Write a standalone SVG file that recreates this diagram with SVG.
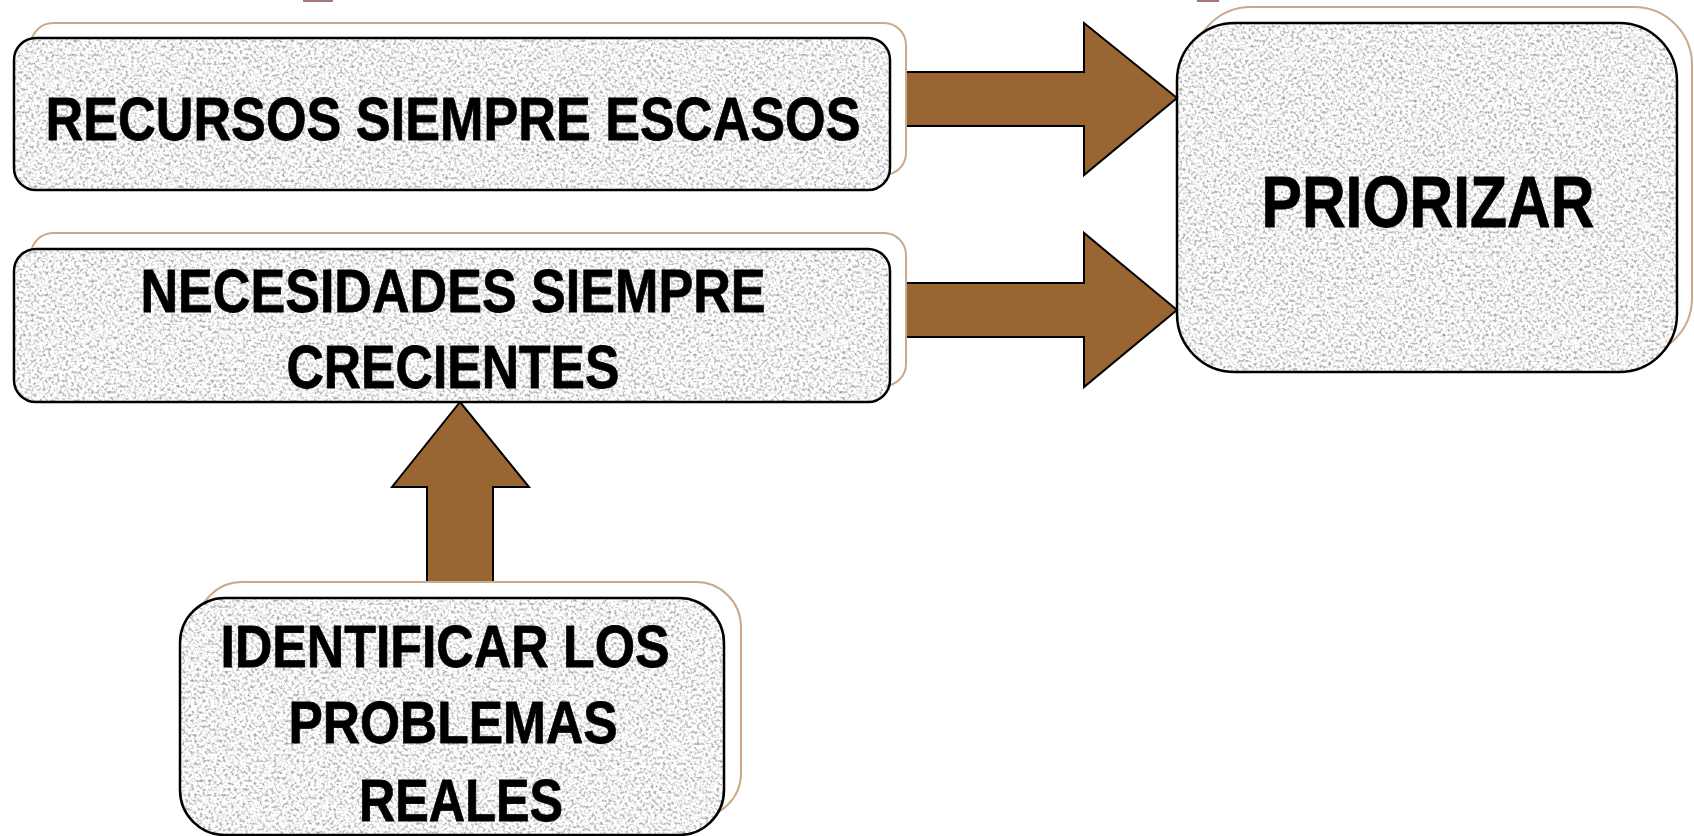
<svg xmlns="http://www.w3.org/2000/svg" width="1694" height="836" viewBox="0 0 1694 836">
  <style>
    .back { fill: #ffffff; stroke: #c9ab8c; stroke-width: 2; }
    .face { fill: #e6e6e6; filter: url(#granite); }
    .edge { fill: none; stroke: #000000; stroke-width: 2.5; }
    .lbl { font-family: "Liberation Sans Narrow", "Liberation Sans", Arial, sans-serif; font-weight: bold; fill: #000000; text-anchor: middle; stroke: #000000; stroke-width: 0.8; }
    .arrow { fill: #996633; stroke: #000000; stroke-width: 2; stroke-linejoin: miter; }
  </style>
  <defs>
    <filter id="granite" x="0" y="0" width="100%" height="100%" color-interpolation-filters="sRGB">
      <feTurbulence type="fractalNoise" baseFrequency="0.35" numOctaves="2" seed="7" result="noise"/>
      <feColorMatrix in="noise" type="matrix" values="1.0 0 0 0 0.45  1.0 0 0 0 0.45  1.0 0 0 0 0.45  0 0 0 0 1" result="gray"/>
      <feComposite in="gray" in2="SourceGraphic" operator="in"/>
    </filter>
  </defs>

  <rect x="0" y="0" width="1694" height="836" fill="#ffffff"/>
  <rect x="303" y="0" width="30" height="2" fill="#a87878"/>
  <rect x="1197" y="0" width="22" height="2" fill="#a87878"/>

  <g id="connectors">
    <polygon class="arrow" points="905,72 1084,72 1084,23 1177,98 1084,175 1084,126 905,126"/>
    <polygon class="arrow" points="905,283 1084,283 1084,233 1177,310 1084,387 1084,337 905,337"/>
    <polygon class="arrow" points="460,402 529,487 493,487 493,583 427,583 427,487 392,487"/>
  </g>

  <g id="node-recursos">
    <rect class="back" x="31" y="23" width="875" height="152" rx="22"/>
    <rect class="face" x="14" y="38" width="876" height="152" rx="22"/>
    <rect class="edge" x="14" y="38" width="876" height="152" rx="22"/>
    <text class="lbl" x="453" y="140" font-size="61" textLength="815" lengthAdjust="spacingAndGlyphs">RECURSOS SIEMPRE ESCASOS</text>
  </g>

  <g id="node-necesidades">
    <rect class="back" x="31" y="233" width="875" height="153" rx="22"/>
    <rect class="face" x="14" y="249" width="876" height="153" rx="22"/>
    <rect class="edge" x="14" y="249" width="876" height="153" rx="22"/>
    <text class="lbl" x="453" y="312" font-size="62" textLength="625" lengthAdjust="spacingAndGlyphs">NECESIDADES SIEMPRE</text>
    <text class="lbl" x="453" y="388" font-size="61" textLength="333" lengthAdjust="spacingAndGlyphs">CRECIENTES</text>
  </g>

  <g id="node-priorizar">
    <rect class="back" x="1193" y="7" width="499" height="349" rx="58"/>
    <rect class="face" x="1177" y="23" width="500" height="349" rx="58"/>
    <rect class="edge" x="1177" y="23" width="500" height="349" rx="58"/>
    <text class="lbl" x="1428" y="227" font-size="72" textLength="333" lengthAdjust="spacingAndGlyphs">PRIORIZAR</text>
  </g>

  <g id="node-identificar">
    <rect class="back" x="197" y="582" width="544" height="236" rx="45"/>
    <rect class="face" x="180" y="598" width="544" height="237" rx="45"/>
    <rect class="edge" x="180" y="598" width="544" height="237" rx="45"/>
    <text class="lbl" x="445" y="667" font-size="60" textLength="449" lengthAdjust="spacingAndGlyphs">IDENTIFICAR LOS</text>
    <text class="lbl" x="453" y="743" font-size="60" textLength="329" lengthAdjust="spacingAndGlyphs">PROBLEMAS</text>
    <text class="lbl" x="461" y="821" font-size="60" textLength="204" lengthAdjust="spacingAndGlyphs">REALES</text>
  </g>
</svg>
